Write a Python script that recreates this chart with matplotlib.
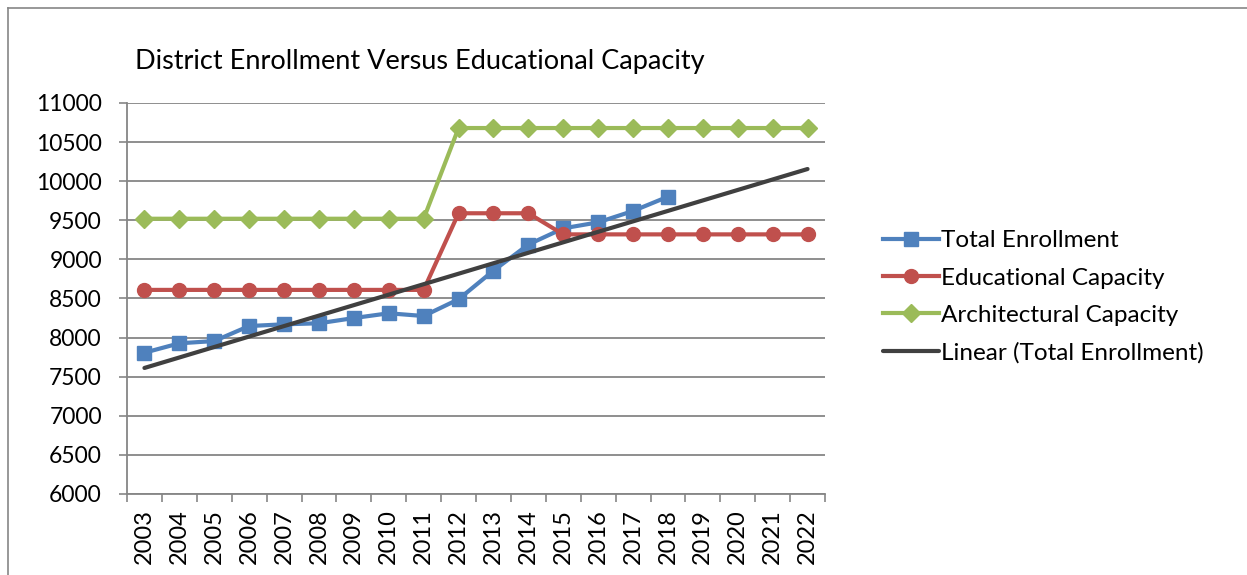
import numpy as np
import matplotlib
matplotlib.use("Agg")
import matplotlib.pyplot as plt
from matplotlib.lines import Line2D

plt.rcParams['font.family'] = ['Lato', 'DejaVu Sans']

years = [str(y) for y in range(2003, 2023)]
total_enrollment = [7807, 7927, 7956, 8148, 8170, 8183, 8250, 8311, 8276, 8490,
                    8856, 9190, 9397, 9474, 9619, 9802]
educational_capacity = [8610, 8610, 8610, 8610, 8610, 8610, 8610, 8610, 8610, 9590,
                        9590, 9590, 9320, 9320, 9320, 9320, 9320, 9320, 9320, 9320]
architectural_capacity = [9520, 9520, 9520, 9520, 9520, 9520, 9520, 9520, 9520, 10680,
                          10680, 10680, 10680, 10680, 10680, 10680, 10680, 10680, 10680, 10680]

fig = plt.figure(figsize=(12.47, 5.75), dpi=100)
ax = fig.add_axes([127 / 1247, 1 - 494 / 575, (825 - 127) / 1247, (494 - 103) / 575])

x_all = np.arange(len(years))
x_te = np.arange(len(total_enrollment))

# linear trend of enrollment, extended forward to the last year
slope, intercept = np.polyfit(x_te, total_enrollment, 1)
trend = slope * x_all + intercept

ax.plot(x_te, total_enrollment, color='#4F81BD', lw=3, marker='s', ms=10,
        label='Total Enrollment', zorder=3)
ax.plot(x_all, educational_capacity, color='#C0504D', lw=3, marker='o', ms=10,
        label='Educational Capacity', zorder=3)
ax.plot(x_all, architectural_capacity, color='#9BBB59', lw=3, marker='D', ms=9,
        label='Architectural Capacity', zorder=3)
ax.plot(x_all, trend, color='#404040', lw=3, label='Linear (Total Enrollment)', zorder=4,
        solid_capstyle='round')

ax.set_xlim(-0.5, len(years) - 0.5)
ax.set_ylim(6000, 11000)
ax.set_yticks(range(6000, 11001, 500))
ax.set_xticks(x_all)
ax.set_xticklabels(years, rotation=90)
ax.set_xticks(np.arange(-0.5, len(years), 1), minor=True)
ax.tick_params(axis='x', which='major', length=0, pad=11, labelsize=17)
ax.tick_params(axis='x', which='minor', length=6, color='#868686', width=1.2, direction='out')
ax.tick_params(axis='y', length=6, color='#868686', width=1.2, labelsize=16.5, pad=12)

ax.grid(axis='y', color='#868686', lw=1.3)
ax.set_axisbelow(True)
for s in ['top', 'right']:
    ax.spines[s].set_visible(False)
for s in ['left', 'bottom']:
    ax.spines[s].set_color('#868686')
    ax.spines[s].set_linewidth(1.3)

fig.text(420 / 1247, 1 - 61 / 575, 'District Enrollment Versus Educational Capacity',
         fontsize=19.5, ha='center', va='center')

ax.legend(loc='center left', bbox_to_anchor=(883 / 1247, 1 - 297 / 575),
          bbox_transform=fig.transFigure, frameon=False, fontsize=17.5,
          handlelength=2.3, handletextpad=0.1, labelspacing=0.67, borderaxespad=0,
          borderpad=0)

# outer chart frame (cropped)
fig.add_artist(Line2D([8 / 1247, 8 / 1247], [0, 1 - 8 / 575], color='#868686', lw=1.2,
                      transform=fig.transFigure))
fig.add_artist(Line2D([8 / 1247, 1], [1 - 8 / 575, 1 - 8 / 575], color='#868686', lw=1.2,
                      transform=fig.transFigure))

fig.savefig('out.png', dpi=100)
